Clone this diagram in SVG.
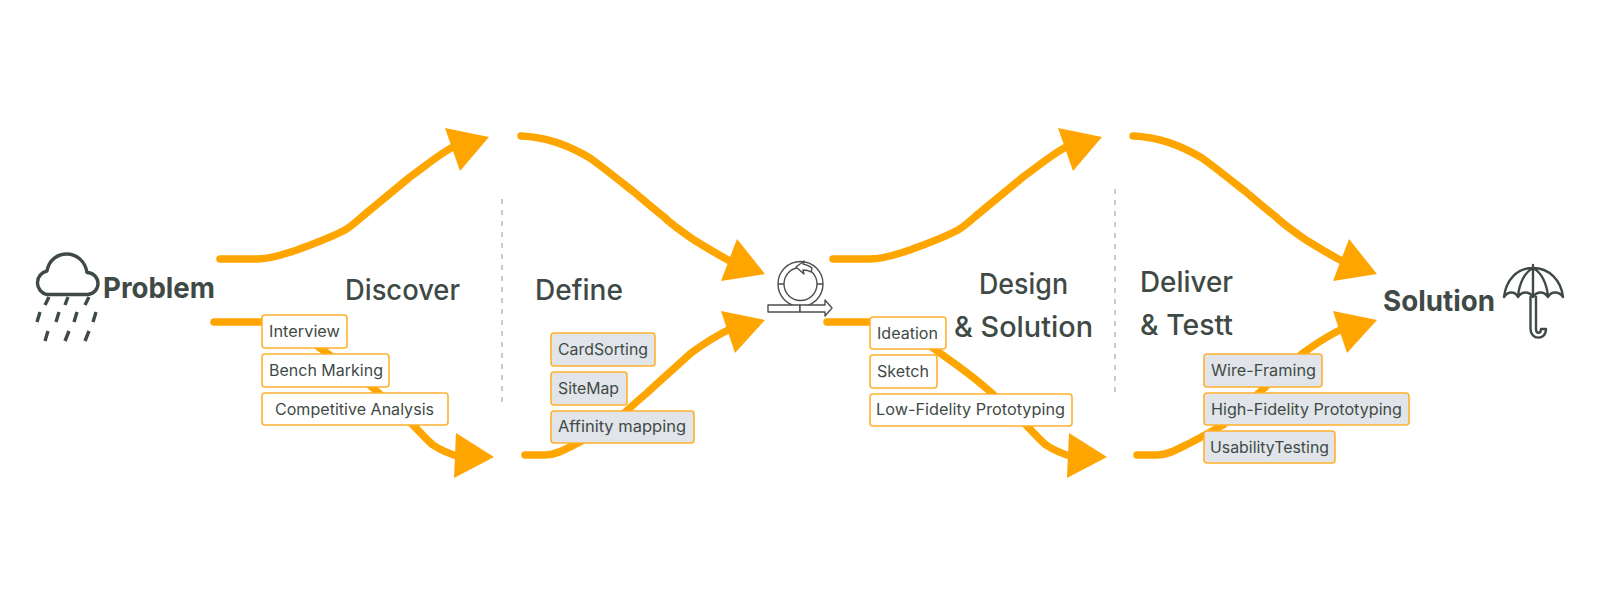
<svg xmlns="http://www.w3.org/2000/svg" width="1600" height="591" viewBox="0 0 1600 591">
<style>
.c{fill:none;stroke:#ffa500;stroke-width:7.500;stroke-linecap:round;stroke-linejoin:round}
.h{fill:#ffa500}
.d{fill:none;stroke:#a5a8a8;stroke-width:1.2;stroke-dasharray:5 6}
.b{fill:#fff;stroke:#ffb12e;stroke-width:1.6}
.g{fill:#e1e5e9;stroke:#ffb12e;stroke-width:1.6}
text{font-family:"Inter","Open Sans","Liberation Sans",sans-serif;fill:#3f4a46}
.t{font-size:15.500px}
.l{font-size:28px;font-weight:500}
.s{font-size:29px;font-weight:700}
.i{fill:none;stroke:#3f4a46;stroke-width:3.400;stroke-linecap:butt;stroke-linejoin:round}
.a{fill:#fff;stroke:#4a4f4d;stroke-width:1.4;stroke-linejoin:round}
.u{fill:none;stroke:#3f4a46;stroke-width:2.400;stroke-linejoin:round;stroke-linecap:round}
</style>
<defs>
<g id="up"><path class="c" d="M220 259H257C271 259 284 254 297 250C313 244 330 238 345 230C352 226 358 220 364 215L410 177C424 167 438 155 453 147"/><path class="h" d="M489 137L445 128L460 171Z"/></g>
<g id="down"><path class="c" d="M214 322H263C283 322 302 335 320 348C338 361 356 373 373 388C387 400 399 413 413 425C420 432 427 440 433 445C442 451 450 454 460 457"/><path class="h" d="M494 457L456 433L454 478Z"/></g>
<g id="conv1"><path class="c" d="M521 136C548 137 570 146 590 158C600 165 620 181 634 192C647 203 654 209 664 217C672 225 684 233 694 240C707 248 720 256 732 262"/><path class="h" d="M765 274L737 239L721 281Z"/></g>
<g id="conv2"><path class="c" d="M525 455H545C556 455 566 449 578 443C590 437 600 431 611 425C622 415 635 403 648 392C663 378 678 365 691 353C702 345 716 336 728 330"/><path class="h" d="M765 320L721 311L735 353Z"/></g>
</defs>
<g id="connectors">
<use href="#up"/>
<use href="#down"/>
<use href="#conv1"/>
<use href="#conv2"/>
<use href="#up" x="613"/>
<use href="#down" x="613"/>
<use href="#conv1" x="612"/>
<use href="#conv2" x="612"/>
<path class="d" d="M502 199V402"/>
<path class="d" d="M1115 189V392"/>
</g>
<g id="problem">
<path class="i" d="M47 294.500H87A11 11 0 0 0 87 272.500C83 248 51 248 47 271A12 12 0 0 0 47 294.500Z"/>
<path class="i" d="M49 297L45 305M68 297L65 305M89 297L85 305M40 312L37 322M59 312L56 322M77 312L74 322M96 312L93 322M48 331L45 341M69 331L65 341M89 331L85 341"/>
<text class="s" x="103" y="298" textLength="112" lengthAdjust="spacingAndGlyphs">Problem</text>
</g>
<g id="iteration">
<circle class="a" cx="800.500" cy="284" r="22.500"/>
<circle class="a" cx="800.500" cy="284" r="16.500"/>
<path class="a" fill="none" d="M778 284H784M817 284H823"/>
<path class="a" d="M796 267L804 261L803 264C807 265 810 266 812 268L811 272C808 270 806 270 803 270L804 274Z"/>
<path class="a" d="M768 305H800V312H768Z"/>
<path class="a" d="M800 305H825V300L832 308L825 316V312H800Z"/>
</g>
<g id="solution">
<text class="s" x="1383" y="311" textLength="112" lengthAdjust="spacingAndGlyphs">Solution</text>
<path class="u" d="M1504 297C1506 280 1517 268 1533 268C1549 268 1561 280 1563 297C1559 291 1551 291 1548 297C1544 291 1537 291 1533 297C1529 291 1522 291 1518 297C1515 291 1508 291 1504 297ZM1518 297C1519 283 1525 272 1533 268C1541 272 1547 283 1548 297M1533 265V297"/>
<path class="u" d="M1530.500 297V329C1530.500 340 1546 341 1546 329L1541 329C1541 334 1536 334 1536 329V297"/>
</g>
<g id="discover"><text class="l" x="345" y="300" textLength="115" lengthAdjust="spacingAndGlyphs">Discover</text></g>
<g id="define"><text class="l" x="535" y="300" textLength="88" lengthAdjust="spacingAndGlyphs">Define</text></g>
<g id="design"><text class="l" x="979" y="294" textLength="89" lengthAdjust="spacingAndGlyphs">Design</text><text class="l" x="954" y="337" textLength="139" lengthAdjust="spacingAndGlyphs">&amp; Solution</text></g>
<g id="deliver"><text class="l" x="1140" y="292" textLength="93" lengthAdjust="spacingAndGlyphs">Deliver</text><text class="l" x="1140" y="335" textLength="93" lengthAdjust="spacingAndGlyphs">&amp; Testt</text></g>
<g id="interview"><rect class="b" x="262" y="315" width="85" height="33" rx="3"/><text class="t" x="269" y="337" textLength="71" lengthAdjust="spacingAndGlyphs">Interview</text></g>
<g id="bench"><rect class="b" x="262" y="354" width="127" height="33" rx="3"/><text class="t" x="269" y="376" textLength="114" lengthAdjust="spacingAndGlyphs">Bench Marking</text></g>
<g id="competitive"><rect class="b" x="262" y="393" width="186" height="32" rx="3"/><text class="t" x="275" y="415" textLength="159" lengthAdjust="spacingAndGlyphs">Competitive Analysis</text></g>
<g id="cardsorting"><rect class="g" x="551" y="333" width="104" height="33" rx="3"/><text class="t" x="558" y="355" textLength="90" lengthAdjust="spacingAndGlyphs">CardSorting</text></g>
<g id="sitemap"><rect class="g" x="551" y="372" width="76" height="33" rx="3"/><text class="t" x="558" y="394" textLength="61" lengthAdjust="spacingAndGlyphs">SiteMap</text></g>
<g id="affinity"><rect class="g" x="551" y="411" width="143" height="32" rx="3"/><text class="t" x="558" y="432" textLength="128" lengthAdjust="spacingAndGlyphs">Affinity mapping</text></g>
<g id="ideation"><rect class="b" x="870" y="317" width="76" height="32" rx="3"/><text class="t" x="877" y="339" textLength="61" lengthAdjust="spacingAndGlyphs">Ideation</text></g>
<g id="sketch"><rect class="b" x="870" y="355" width="67" height="33" rx="3"/><text class="t" x="877" y="377" textLength="52" lengthAdjust="spacingAndGlyphs">Sketch</text></g>
<g id="lowfi"><rect class="b" x="870" y="394" width="202" height="32" rx="3"/><text class="t" x="876" y="415" textLength="189" lengthAdjust="spacingAndGlyphs">Low-Fidelity Prototyping</text></g>
<g id="wire"><rect class="g" x="1204" y="354" width="118" height="33" rx="3"/><text class="t" x="1211" y="376" textLength="105" lengthAdjust="spacingAndGlyphs">Wire-Framing</text></g>
<g id="highfi"><rect class="g" x="1204" y="393" width="205" height="32" rx="3"/><text class="t" x="1211" y="415" textLength="191" lengthAdjust="spacingAndGlyphs">High-Fidelity Prototyping</text></g>
<g id="usability"><rect class="g" x="1204" y="431" width="131" height="32" rx="3"/><text class="t" x="1210" y="453" textLength="119" lengthAdjust="spacingAndGlyphs">UsabilityTesting</text></g>
</svg>
